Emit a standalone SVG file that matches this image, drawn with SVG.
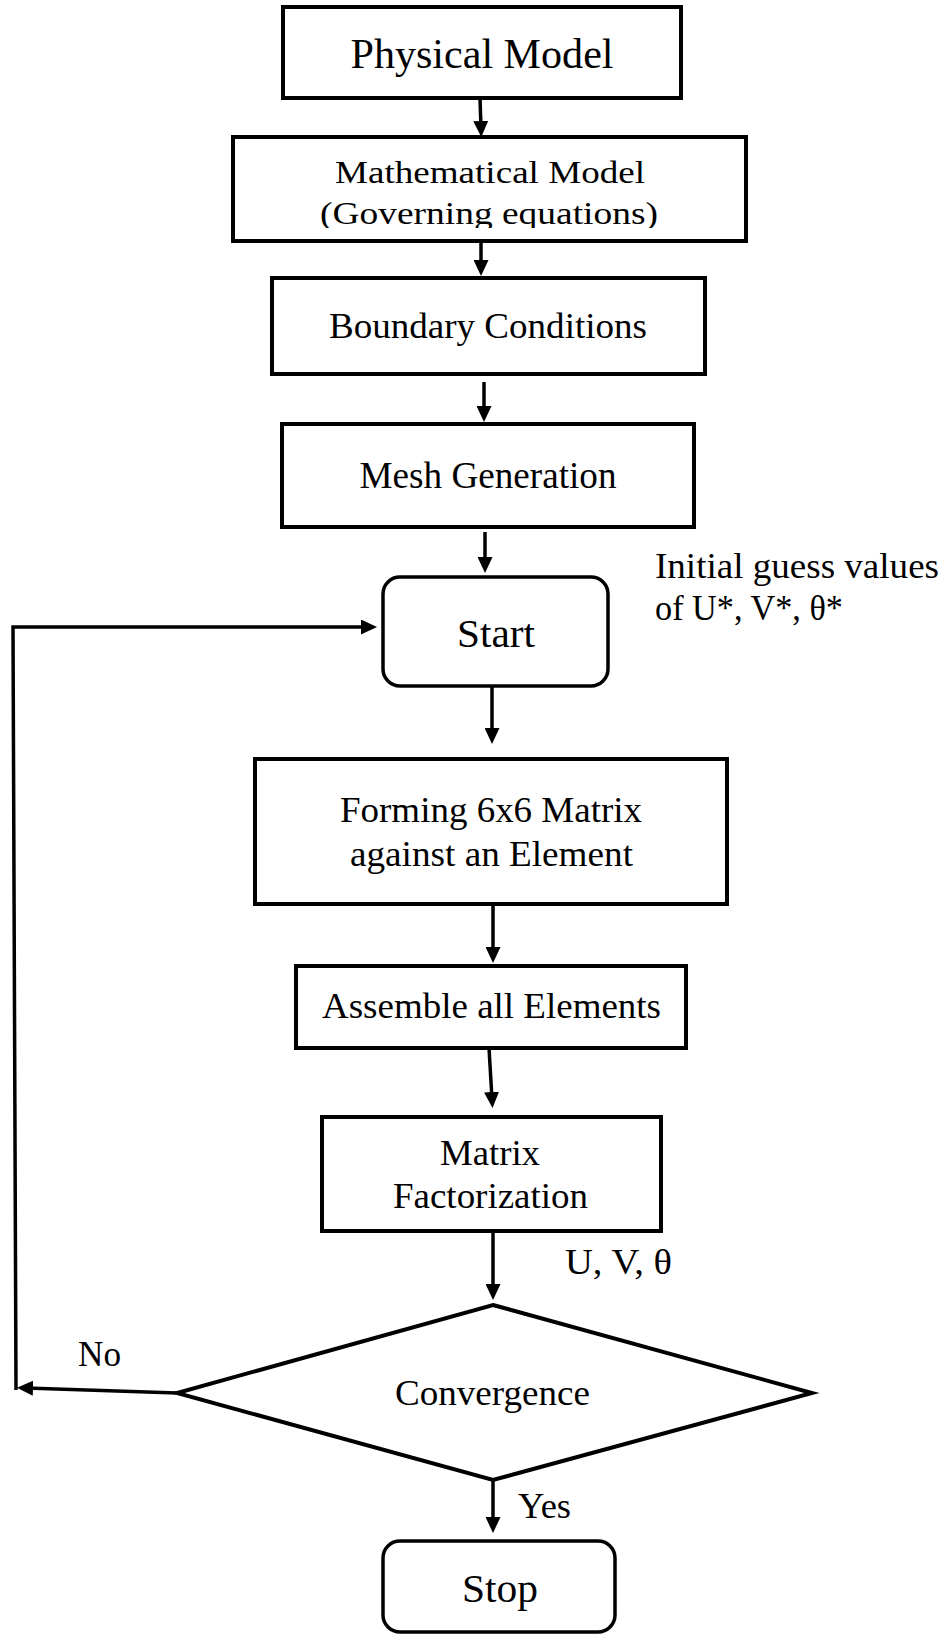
<svg xmlns="http://www.w3.org/2000/svg" width="947" height="1635" viewBox="0 0 947 1635">
<style>
.box{fill:#fff;stroke:#000;stroke-width:4}
.rbox{fill:#fff;stroke:#000;stroke-width:3.5}
.dia{fill:none;stroke:#000;stroke-width:4;stroke-linejoin:miter}
.con{fill:none;stroke:#000;stroke-width:3.5}
.c{text-anchor:middle}
</style>
<defs>
<marker id="ah" viewBox="0 0 16 15" refX="7" refY="7.5" markerUnits="userSpaceOnUse" markerWidth="16" markerHeight="15" orient="auto">
<path d="M0,0 L16,7.5 L0,15 z" fill="#000"/>
</marker>
<clipPath id="clipGov"><rect x="230" y="190" width="520" height="38"/></clipPath>
</defs>
<rect width="947" height="1635" fill="#fff"/>
<g font-family="'Liberation Serif', 'Times New Roman', serif" fill="#000">
<g id="physical">
<rect class="box" x="283" y="7" width="398" height="91"/>
<text class="c" x="482" y="68" font-size="42" textLength="263" lengthAdjust="spacingAndGlyphs">Physical Model</text>
</g>
<g id="mathematical">
<rect class="box" x="233" y="137" width="513" height="104"/>
<text class="c" x="490" y="183" font-size="32" textLength="310" lengthAdjust="spacingAndGlyphs">Mathematical Model</text>
<text class="c" x="489" y="224" font-size="32" textLength="338" lengthAdjust="spacingAndGlyphs" clip-path="url(#clipGov)">(Governing equations)</text>
</g>
<g id="boundary">
<rect class="box" x="272" y="278" width="433" height="96"/>
<text class="c" x="488" y="338" font-size="35" textLength="318" lengthAdjust="spacingAndGlyphs">Boundary Conditions</text>
</g>
<g id="mesh">
<rect class="box" x="282" y="424" width="412" height="103"/>
<text class="c" x="488" y="488" font-size="37" textLength="257" lengthAdjust="spacingAndGlyphs">Mesh Generation</text>
</g>
<g id="start">
<rect class="rbox" x="383" y="577" width="225" height="109" rx="17" ry="17"/>
<text class="c" x="496" y="647" font-size="40" textLength="78" lengthAdjust="spacingAndGlyphs">Start</text>
</g>
<g id="initial-note">
<text x="655" y="578" font-size="35" textLength="284" lengthAdjust="spacingAndGlyphs">Initial guess values</text>
<text x="655" y="620" font-size="35" textLength="188" lengthAdjust="spacingAndGlyphs">of U*, V*, θ*</text>
</g>
<g id="forming">
<rect class="box" x="255" y="759" width="472" height="145"/>
<text class="c" x="491" y="822" font-size="35" textLength="302" lengthAdjust="spacingAndGlyphs">Forming 6x6 Matrix</text>
<text class="c" x="491.5" y="866" font-size="35" textLength="283" lengthAdjust="spacingAndGlyphs">against an Element</text>
</g>
<g id="assemble">
<rect class="box" x="296" y="966" width="390" height="82"/>
<text class="c" x="491.5" y="1018" font-size="35" textLength="339" lengthAdjust="spacingAndGlyphs">Assemble all Elements</text>
</g>
<g id="factorization">
<rect class="box" x="322" y="1117" width="339" height="114"/>
<text class="c" x="490" y="1165" font-size="35" textLength="100" lengthAdjust="spacingAndGlyphs">Matrix</text>
<text class="c" x="490.5" y="1208" font-size="35" textLength="195" lengthAdjust="spacingAndGlyphs">Factorization</text>
</g>
<g id="uvt-label">
<text x="565" y="1274" font-size="36" textLength="107" lengthAdjust="spacingAndGlyphs">U, V, θ</text>
</g>
<g id="convergence">
<polygon class="dia" points="493,1305 812,1393 493,1480 177,1393"/>
<text class="c" x="492.5" y="1405" font-size="35" textLength="195" lengthAdjust="spacingAndGlyphs">Convergence</text>
</g>
<g id="no-label">
<text x="78" y="1366" font-size="35" textLength="43" lengthAdjust="spacingAndGlyphs">No</text>
</g>
<g id="yes-label">
<text x="518" y="1518" font-size="35" textLength="53" lengthAdjust="spacingAndGlyphs">Yes</text>
</g>
<g id="stop">
<rect class="rbox" x="383" y="1541" width="232" height="91" rx="17" ry="17"/>
<text class="c" x="500" y="1602" font-size="41" textLength="76" lengthAdjust="spacingAndGlyphs">Stop</text>
</g>
</g>
<g id="connectors">
<line class="con" x1="480" y1="98" x2="481" y2="128" marker-end="url(#ah)"/>
<line class="con" x1="481" y1="241" x2="481" y2="267" marker-end="url(#ah)"/>
<line class="con" x1="484" y1="382" x2="484" y2="413" marker-end="url(#ah)"/>
<line class="con" x1="485" y1="532" x2="485" y2="564" marker-end="url(#ah)"/>
<line class="con" x1="492" y1="686" x2="492" y2="735" marker-end="url(#ah)"/>
<line class="con" x1="493" y1="904" x2="493" y2="954" marker-end="url(#ah)"/>
<line class="con" x1="489" y1="1048" x2="492" y2="1099" marker-end="url(#ah)"/>
<line class="con" x1="493" y1="1233" x2="493" y2="1291" marker-end="url(#ah)"/>
<line class="con" x1="493" y1="1480" x2="493" y2="1524" marker-end="url(#ah)"/>
<line class="con" x1="177" y1="1393" x2="26" y2="1388" marker-end="url(#ah)"/>
<path class="con" d="M16,1390 L13,627 L368,627" marker-end="url(#ah)"/>
</g>
</svg>
